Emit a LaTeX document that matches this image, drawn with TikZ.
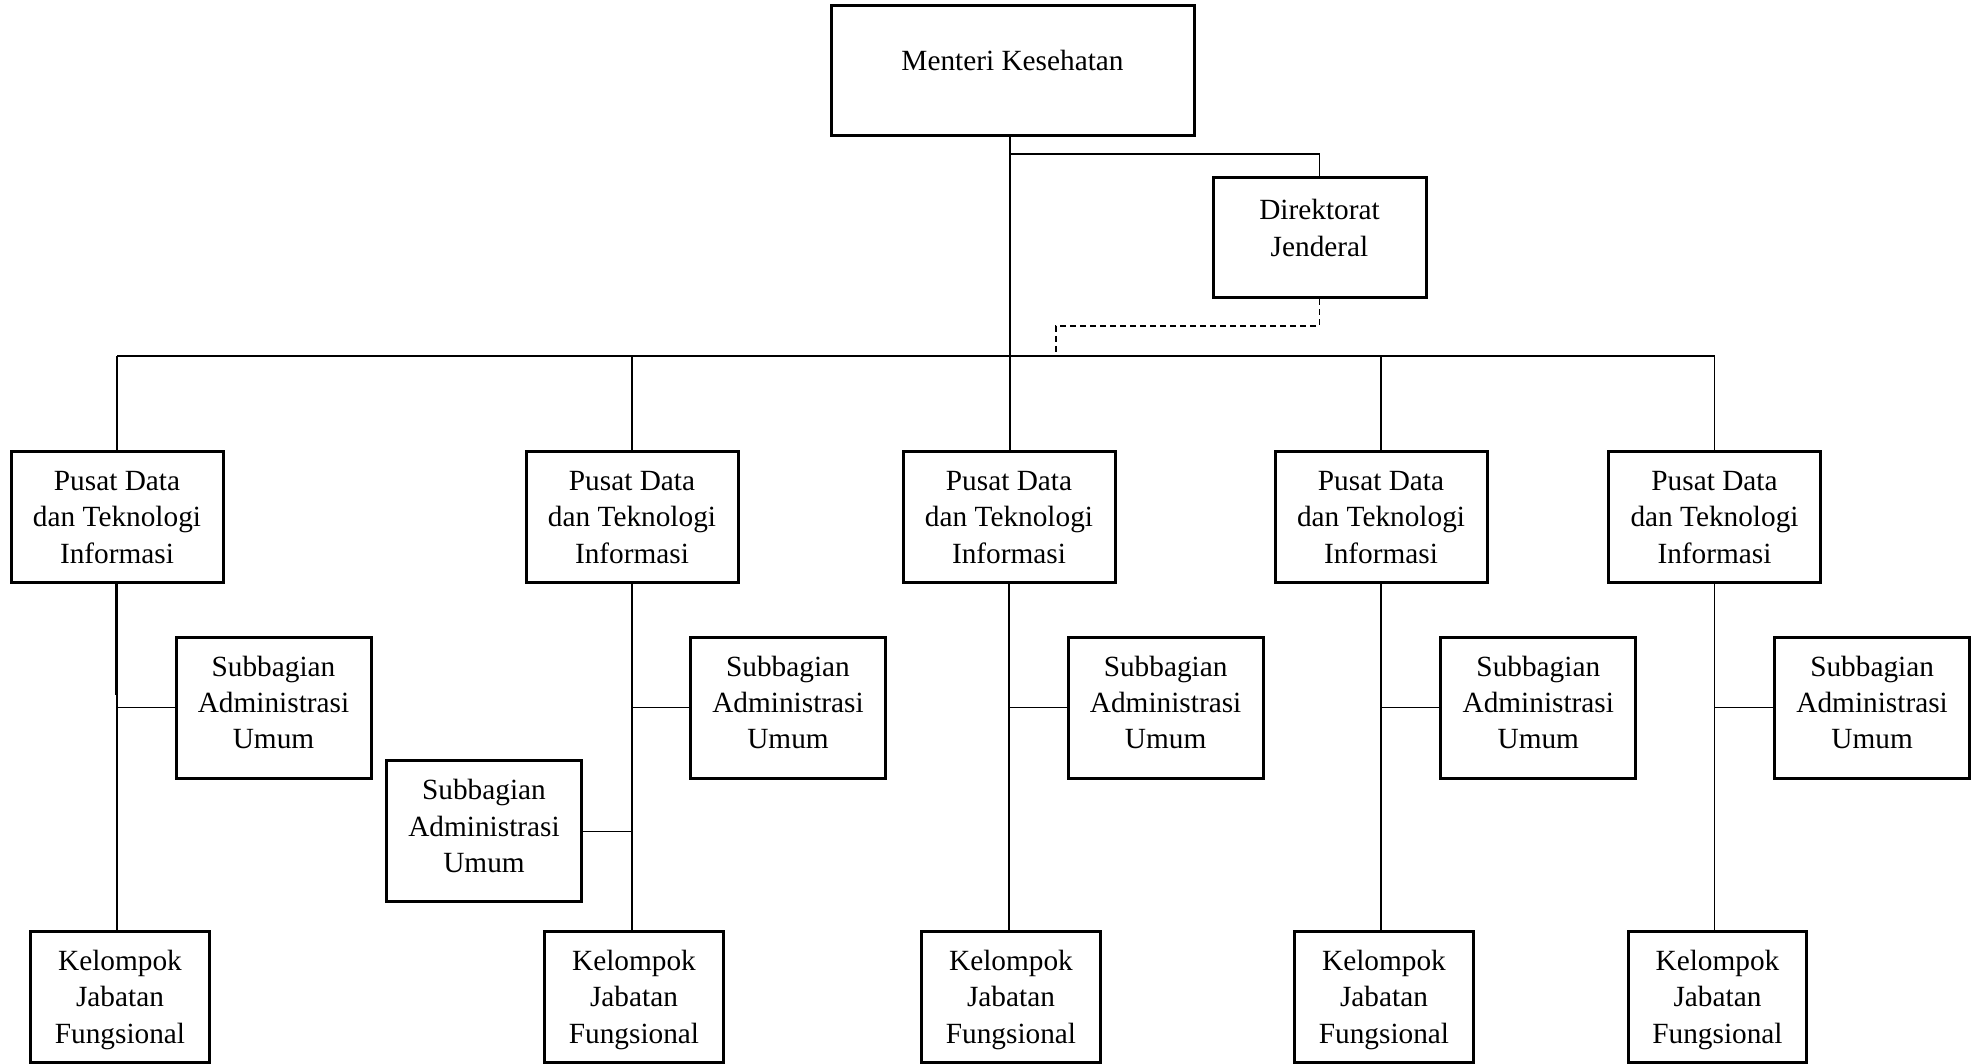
\documentclass[tikz,border=0pt]{standalone}
\usepackage{fontspec}
\setmainfont{Liberation Serif}
\newcommand\orgfont{\fontsize{14.65pt}{18.2pt}\selectfont}
% centred multi-line label, lifted by #1 with no height of its own
\newcommand\orgstack[2][0pt]{\raisebox{#1}[0pt][0pt]{\begin{tabular}{@{}c@{}}#2\end{tabular}}}
\begin{document}
\begin{tikzpicture}[x=0.5pt,y=-0.5pt,
  boxline/.style={draw, line width=1.5pt, rectangle, inner sep=0pt, font=\orgfont},
  pusat/.style={boxline, minimum width=106pt, minimum height=65pt},
  subbag/.style={boxline, minimum width=97.5pt, minimum height=70.5pt},
  kelompok/.style={boxline, minimum width=89.3pt, minimum height=65.75pt},
  link/.style={line width=0.7pt},
  dashlink/.style={line width=0.7pt, dash pattern=on 3pt off 2pt}]
\useasboundingbox (0,0) rectangle (1978,1064);

% top level
\node[boxline, minimum width=181.5pt, minimum height=65pt] (men) at (1012.5,71) {\smash{Menteri Kesehatan}};
\node[boxline, minimum width=106.5pt, minimum height=60pt] (dj) at (1319.5,238)
  {\orgstack{Direktorat\\Jenderal}};

% centres
\node[pusat] (p1) at (117,517)   {\orgstack[-4.9pt]{Pusat Data\\dan Teknologi\\Informasi}};
\node[pusat] (p2) at (632,517)   {\orgstack[-4.9pt]{Pusat Data\\dan Teknologi\\Informasi}};
\node[pusat] (p3) at (1009,517)  {\orgstack[-4.9pt]{Pusat Data\\dan Teknologi\\Informasi}};
\node[pusat] (p4) at (1381,517)  {\orgstack[-4.9pt]{Pusat Data\\dan Teknologi\\Informasi}};
\node[pusat] (p5) at (1714.5,517){\orgstack[-4.9pt]{Pusat Data\\dan Teknologi\\Informasi}};

% administrative subdivisions
\node[subbag] (s1)  at (273.5,707.5)  {\orgstack[-2.5pt]{Subbagian\\Administrasi\\Umum}};
\node[subbag] (s2)  at (788,707.5)    {\orgstack[-2.5pt]{Subbagian\\Administrasi\\Umum}};
\node[subbag] (s2b) at (484,831.25)   {\orgstack[-2.5pt]{Subbagian\\Administrasi\\Umum}};
\node[subbag] (s3)  at (1165.6,707.5) {\orgstack[-2.5pt]{Subbagian\\Administrasi\\Umum}};
\node[subbag] (s4)  at (1538.3,707.5) {\orgstack[-2.5pt]{Subbagian\\Administrasi\\Umum}};
\node[subbag] (s5)  at (1872.1,707.5) {\orgstack[-2.5pt]{Subbagian\\Administrasi\\Umum}};

% functional groups
\node[kelompok] (k1) at (120,996.75)    {\orgstack[-4.9pt]{Kelompok\\Jabatan\\Fungsional}};
\node[kelompok] (k2) at (634,996.75)    {\orgstack[-4.9pt]{Kelompok\\Jabatan\\Fungsional}};
\node[kelompok] (k3) at (1011,996.75)   {\orgstack[-4.9pt]{Kelompok\\Jabatan\\Fungsional}};
\node[kelompok] (k4) at (1384,996.75)   {\orgstack[-4.9pt]{Kelompok\\Jabatan\\Fungsional}};
\node[kelompok] (k5) at (1717.5,996.75) {\orgstack[-4.9pt]{Kelompok\\Jabatan\\Fungsional}};

% bus and tap points
\coordinate (busL) at (117,356);
\coordinate (busR) at (1715,356);
\coordinate (tap) at (1010,154);
\coordinate (dashfoot) at (1056,356);

% spine from the minister
\draw[link] (tap |- men.south) -- (tap |- p3.north);
\draw[link] (tap) -| (dj.north);
\draw[dashlink] (dj.south) |- (dashfoot |- 0,326) -- (dashfoot);

% horizontal bus
\draw[link] (busL) -- (busR);
\foreach \p in {p1,p2,p4,p5}
  \draw[link] (\p.north |- busL) -- (\p.north);

% column spines and side branches
\foreach \p/\k/\s in {p1/k1/s1,p2/k2/s2,p3/k3/s3,p4/k4/s4,p5/k5/s5}{
  \draw[link] (\p.south) -- (\p.south |- \k.north);
  \draw[link] (\p.south |- \s.west) -- (\s.west);
}
\draw[link] (s2b.east) -- (p2.south |- s2b.east);
\draw[line width=0.5pt] ([xshift=-0.9pt]p1.south) -- ([xshift=-0.9pt]p1.south |- 0,695);
\end{tikzpicture}
\end{document}
